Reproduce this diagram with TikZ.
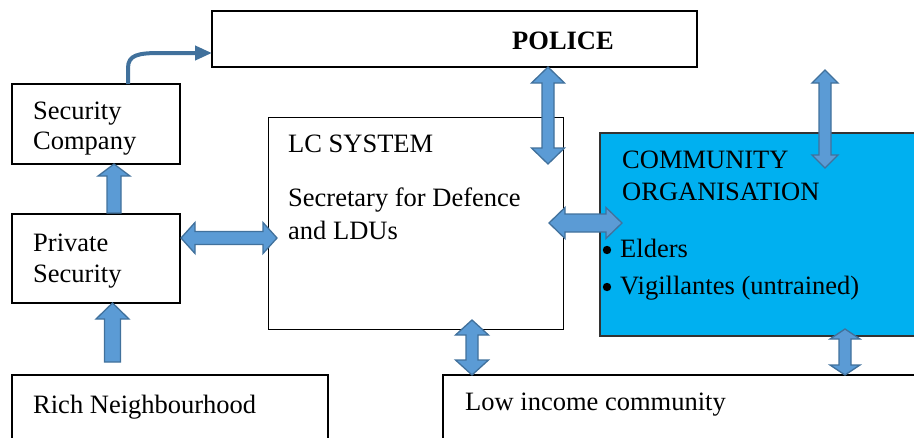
\documentclass[tikz,border=0pt]{standalone}
\usepackage{fontspec}
\setmainfont{Liberation Serif}
\usetikzlibrary{arrows.meta}
\definecolor{arrfill}{RGB}{91,155,213}
\definecolor{arrline}{RGB}{65,113,156}
\definecolor{commblue}{RGB}{0,176,240}
\newcommand{\vdarr}[7]{% name, cx, ytop, ybot, shaft half, head half, head len
  \draw[blockarr] (#2,#3) -- ({#2+#6},{#3+#7}) -- ({#2+#5},{#3+#7}) -- ({#2+#5},{#4-#7}) -- ({#2+#6},{#4-#7}) -- (#2,#4)
   -- ({#2-#6},{#4-#7}) -- ({#2-#5},{#4-#7}) -- ({#2-#5},{#3+#7}) -- ({#2-#6},{#3+#7}) -- cycle;}
\newcommand{\hdarr}[7]{% name, cy, xleft, xright, shaft half, head half, head len
  \draw[blockarr] (#3,#2) -- ({#3+#7},{#2-#6}) -- ({#3+#7},{#2-#5}) -- ({#4-#7},{#2-#5}) -- ({#4-#7},{#2-#6}) -- (#4,#2)
   -- ({#4-#7},{#2+#6}) -- ({#4-#7},{#2+#5}) -- ({#3+#7},{#2+#5}) -- ({#3+#7},{#2+#6}) -- cycle;}
\newcommand{\uparr}[7]{% name, cx, ytip, ybot, shaft half, head half, head len
  \draw[blockarr] (#2,#3) -- ({#2+#6},{#3+#7}) -- ({#2+#5},{#3+#7}) -- ({#2+#5},#4) -- ({#2-#5},#4) -- ({#2-#5},{#3+#7}) -- ({#2-#6},{#3+#7}) -- cycle;}
\begin{document}
\begin{tikzpicture}[x=1pt,y=-1pt,
  box/.style={draw=black,line width=1.6pt,fill=white,inner sep=0pt,outer sep=0pt},
  txt/.style={anchor=base west,inner sep=0pt,font=\fontsize{26.5}{30}\selectfont},
  blockarr/.style={draw=arrline,fill=arrfill,line width=1.3pt,line join=miter}]
\useasboundingbox (0,0) rectangle (914,437);
% boxes
\draw[box] (212,11) rectangle (697,67); \coordinate (police) at (212,53);
\draw[box] (12,84) rectangle (180,164); \coordinate (secco) at (128,84);
\draw[box] (12,214) rectangle (180,303);
\draw[box] (12,375) rectangle (328,440);
\draw[draw=black,line width=1pt,fill=white] (268,117) rectangle (563,329);
\draw[draw=black!80,line width=1.3pt,fill=commblue] (600,133) rectangle (916,336);
\draw[box] (443,375) rectangle (916,440);
% texts
\node[txt,anchor=base,font=\fontsize{26.5}{30}\selectfont\bfseries] (tpolice) at (563,49) {POLICE};
\node[txt] (t1) at (33,119) {Security};
\node[txt] (t2) at (33,149) {Company};
\node[txt] (t3) at (33,251) {Private};
\node[txt] (t4) at (33,282) {Security};
\node[txt] (t5) at (33,413) {Rich Neighbourhood};
\node[txt] (t6) at (288,152) {LC SYSTEM};
\node[txt] (t7) at (288,206) {Secretary for Defence};
\node[txt] (t8) at (288,239) {and LDUs};
\node[txt] (t9) at (622,168) {COMMUNITY};
\node[txt] (t10) at (622,200) {ORGANISATION};
\node[txt] (t11) at (620,257) {Elders};
\node[txt] (t12) at (620,294) {Vigillantes (untrained)};
\fill (607,250) circle (4.2);
\fill (607,287) circle (4.2);
\node[txt] (t13) at (465,410) {Low income community};
% block arrows
\vdarr{a1}{548}{67}{164}{6}{16.5}{16}
\vdarr{a2}{825}{70}{168}{6}{13}{13}
\vdarr{a3}{472}{320}{375}{6}{16.5}{15}
\vdarr{a4}{845}{329}{375}{6}{15}{10}
\hdarr{a5}{238}{181}{277}{6.5}{15.5}{14}
\hdarr{a6}{223}{549}{622}{9}{15.5}{16}
\uparr{a7}{114}{164}{213}{7}{16}{12}
\uparr{a8}{112.5}{303}{362}{8}{16.5}{16}
% curved connector
\draw[arrline,line width=4pt,-{Triangle[length=17pt,width=14pt]}]
  (secco) -- (128,68) .. controls (128,55) and (138,53) .. (160,53) -- (police);
\end{tikzpicture}
\end{document}
